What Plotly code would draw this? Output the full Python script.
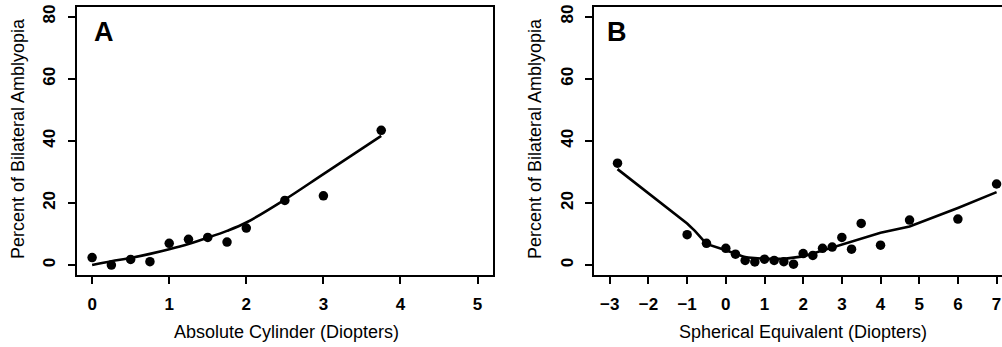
import plotly.graph_objects as go

W, H = 1002, 347

# Panel A data
cyl_x = [0, 0.25, 0.5, 0.75, 1, 1.25, 1.5, 1.75, 2, 2.5, 3, 3.75]
cyl_pct = [2.4, 0.0, 1.8, 1.1, 7.0, 8.3, 8.9, 7.4, 11.9, 20.8, 22.3, 43.4]
cyl_fit = [0.0, 1.2, 2.3, 3.6, 5.1, 6.8, 8.8, 11.0, 13.7, 21.1, 29.3, 41.6]

# Panel B data
se_x = [-2.8, -1, -0.5, 0, 0.25, 0.5, 0.75, 1, 1.25, 1.5, 1.75, 2, 2.25, 2.5, 2.75,
        3, 3.25, 3.5, 4, 4.75, 6, 7]
se_pct = [32.8, 9.8, 7.0, 5.4, 3.5, 1.5, 1.0, 1.9, 1.5, 1.1, 0.3, 3.7, 3.1, 5.4, 5.8,
          8.9, 5.1, 13.4, 6.4, 14.5, 14.8, 26.1]
se_fit_x = [-2.8, -1, -0.8, -0.5, 0, 0.5, 1, 1.5, 2, 2.5, 3, 3.5, 4, 4.75, 6, 7]
se_fit = [30.9, 13.4, 11.0, 6.8, 4.8, 2.5, 2.0, 2.0, 2.8, 4.7, 6.4, 8.4, 10.4, 12.4, 18.4, 23.5]

y_ticks = [0, 20, 40, 60, 80]
a_ticks = [0, 1, 2, 3, 4, 5]
b_ticks = [-3, -2, -1, 0, 1, 2, 3, 4, 5, 6, 7]
b_ticklabels = ["\u22123", "\u22122", "\u22121", "0", "1", "2", "3", "4", "5", "6", "7"]

FONT = "Liberation Sans, Arial, sans-serif"
fig = go.Figure()

mk = dict(color="black", size=9.5)
ln = dict(color="black", width=2.6)
fig.add_trace(go.Scatter(x=cyl_x, y=cyl_pct, mode="markers", marker=mk, xaxis="x", yaxis="y"))
fig.add_trace(go.Scatter(x=cyl_x, y=cyl_fit, mode="lines", line=ln, line_shape="spline", xaxis="x", yaxis="y"))
fig.add_trace(go.Scatter(x=se_x, y=se_pct, mode="markers", marker=mk, xaxis="x2", yaxis="y2", cliponaxis=False))
fig.add_trace(go.Scatter(x=se_fit_x, y=se_fit, mode="lines", line=ln, xaxis="x2", yaxis="y2"))

ydom = [1 - 275 / H, 1 - 6.7 / H]
tickfont = dict(family=FONT, size=17, color="black", weight="bold")
common_x = dict(showgrid=False, zeroline=False, showline=True, linecolor="black", linewidth=2,
                ticks="outside", ticklen=7, tickwidth=2, tickcolor="black", tickfont=tickfont,
                ticklabelstandoff=6, automargin=False)
common_y = dict(common_x, tickangle=-90, tickvals=y_ticks, range=[-3.2, 83.2])

fig.update_layout(
    width=W, height=H, margin=dict(l=0, r=0, t=0, b=0),
    paper_bgcolor="white", plot_bgcolor="white", showlegend=False,
    xaxis=dict(common_x, domain=[76.7 / W, 493 / W], range=[-0.2, 5.2], tickvals=a_ticks,
               mirror=True, anchor="y"),
    yaxis=dict(common_y, domain=ydom, mirror=True, anchor="x"),
    xaxis2=dict(common_x, domain=[594.3 / W, 1.0], range=[-3.4, 7.14], tickvals=b_ticks,
                ticktext=b_ticklabels, mirror=True, anchor="y2"),
    yaxis2=dict(common_y, domain=ydom, mirror=False, anchor="x2"),
)

ann_font = dict(family=FONT, size=18, color="black")
anns = [
    dict(text="Absolute Cylinder (Diopters)", x=286 / W, y=1 - 332 / H),
    dict(text="Spherical Equivalent (Diopters)", x=802.5 / W, y=1 - 332 / H),
    dict(text="Percent of Bilateral Amblyopia", x=18 / W, y=1 - 139 / H, textangle=-90),
    dict(text="Percent of Bilateral Amblyopia", x=535 / W, y=1 - 139 / H, textangle=-90),
]
for a in anns:
    fig.add_annotation(xref="paper", yref="paper", showarrow=False, font=ann_font,
                       xanchor="center", yanchor="middle", **a)
for lab, xc in [("A", 103.5), ("B", 616.5)]:
    fig.add_annotation(text=lab, xref="paper", yref="paper", x=xc / W, y=1 - 32.5 / H,
                       showarrow=False, xanchor="center", yanchor="middle",
                       font=dict(family=FONT, size=27, color="black", weight="bold"))

fig.write_html("out.html", config={"displayModeBar": False},
               post_script="document.body.style.margin='0';document.body.style.overflow='hidden';")
